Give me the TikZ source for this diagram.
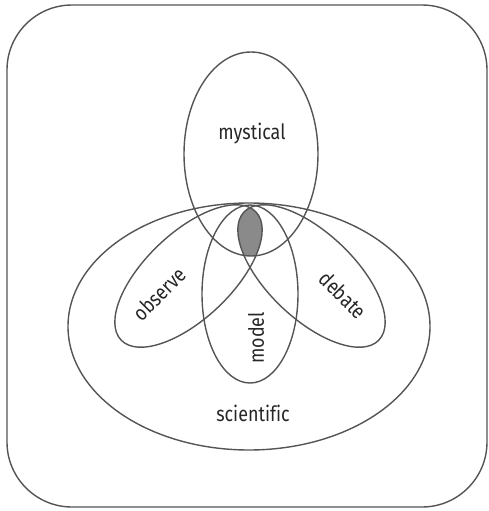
\documentclass[tikz,border=0pt]{standalone}
\usepackage{fontspec}
\setsansfont[FakeStretch=0.85, Ligatures=NoCommon]{Fira Sans}
\usetikzlibrary{positioning}
\definecolor{venngray}{HTML}{555555}
\definecolor{coreshade}{HTML}{8A8A8A}
\tikzset{
    venn frame/.style={draw=venngray, line width=0.8pt, rounded corners=1.3cm},
    venn set/.style={draw=venngray, line width=0.8pt},
    venn core/.style={fill=coreshade},
    venn label/.style={font=\sffamily\large, text=black!85, inner sep=1pt}
}

\begin{document}
\begin{tikzpicture}[x=0.02cm, y=-0.02cm]
\useasboundingbox (0,0) rectangle (489,511);

% Frame
\draw[venn frame] (7,5) rectangle (487,507);

% Shared core of all sets
\begin{scope}
  \clip (251,154) ellipse [x radius=67, y radius=102];
  \clip (188.5,276) ellipse [x radius=93, y radius=43, rotate=43.5];
  \clip (311.5,276) ellipse [x radius=93, y radius=43, rotate=-43.5];
  \fill[venn core] (250,294) ellipse [x radius=48, y radius=89];
\end{scope}

% Sets
\draw[venn set] (251,154) ellipse [x radius=67, y radius=102];
\draw[venn set] (249,326.5) ellipse [x radius=181, y radius=123.5];
\draw[venn set] (188.5,276) ellipse [x radius=93, y radius=43, rotate=43.5];
\draw[venn set] (311.5,276) ellipse [x radius=93, y radius=43, rotate=-43.5];
\draw[venn set] (250,294) ellipse [x radius=48, y radius=89];

% Labels
\node[venn label] (mystical) at (252,134) {mystical};
\node[venn label, rotate=45] (observe) at (159,294) {observe};
\node[venn label, rotate=-45] (debate) at (343,295) {debate};
\node[venn label, rotate=90] (model) at (256,338) {model};
\node[venn label] (scientific) at (253,413) {scientific};
\end{tikzpicture}
\end{document}
